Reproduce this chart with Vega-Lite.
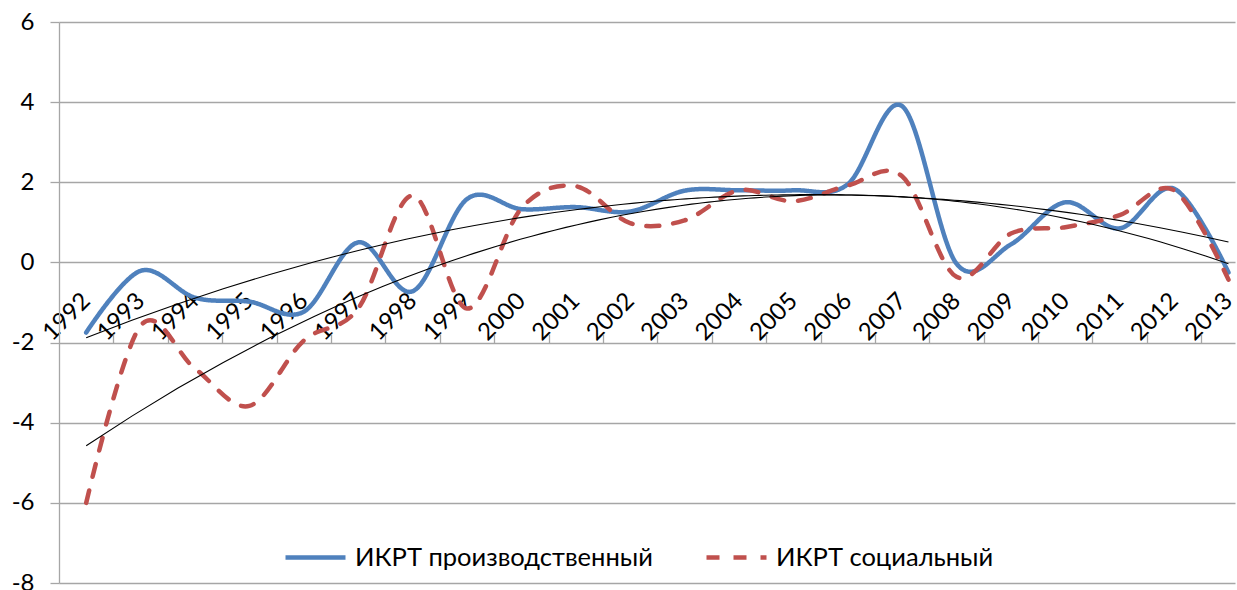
{
  "$schema": "https://vega.github.io/schema/vega-lite/v6.json",
  "width": 1176,
  "height": 561,
  "autosize": "none",
  "padding": {"left": 59, "top": 22, "right": 2, "bottom": 7},
  "background": "white",
  "config": {
    "view": {"stroke": null},
    "font": "Lato",
    "axis": {"labelFont": "Lato", "labelColor": "#000000", "titleFont": "Lato"},
    "legend": {"labelFont": "Lato"}
  },
  "data": {
    "values": [
      {"year": 1992, "series": "ИКРТ производственный", "value": -1.75},
      {"year": 1993, "series": "ИКРТ производственный", "value": -0.21},
      {"year": 1994, "series": "ИКРТ производственный", "value": -0.88},
      {"year": 1995, "series": "ИКРТ производственный", "value": -0.98},
      {"year": 1996, "series": "ИКРТ производственный", "value": -1.23},
      {"year": 1997, "series": "ИКРТ производственный", "value": 0.5},
      {"year": 1998, "series": "ИКРТ производственный", "value": -0.72},
      {"year": 1999, "series": "ИКРТ производственный", "value": 1.58},
      {"year": 2000, "series": "ИКРТ производственный", "value": 1.33},
      {"year": 2001, "series": "ИКРТ производственный", "value": 1.38},
      {"year": 2002, "series": "ИКРТ производственный", "value": 1.27},
      {"year": 2003, "series": "ИКРТ производственный", "value": 1.79},
      {"year": 2004, "series": "ИКРТ производственный", "value": 1.8},
      {"year": 2005, "series": "ИКРТ производственный", "value": 1.8},
      {"year": 2006, "series": "ИКРТ производственный", "value": 1.95},
      {"year": 2007, "series": "ИКРТ производственный", "value": 3.9},
      {"year": 2008, "series": "ИКРТ производственный", "value": -0.03},
      {"year": 2009, "series": "ИКРТ производственный", "value": 0.45},
      {"year": 2010, "series": "ИКРТ производственный", "value": 1.5},
      {"year": 2011, "series": "ИКРТ производственный", "value": 0.85},
      {"year": 2012, "series": "ИКРТ производственный", "value": 1.84},
      {"year": 2013, "series": "ИКРТ производственный", "value": -0.25},
      {"year": 1992, "series": "ИКРТ социальный", "value": -6.0},
      {"year": 1993, "series": "ИКРТ социальный", "value": -1.58},
      {"year": 1994, "series": "ИКРТ социальный", "value": -2.65},
      {"year": 1995, "series": "ИКРТ социальный", "value": -3.58},
      {"year": 1996, "series": "ИКРТ социальный", "value": -1.95},
      {"year": 1997, "series": "ИКРТ социальный", "value": -1.15},
      {"year": 1998, "series": "ИКРТ социальный", "value": 1.67},
      {"year": 1999, "series": "ИКРТ социальный", "value": -1.15},
      {"year": 2000, "series": "ИКРТ социальный", "value": 1.35},
      {"year": 2001, "series": "ИКРТ социальный", "value": 1.9},
      {"year": 2002, "series": "ИКРТ социальный", "value": 0.98},
      {"year": 2003, "series": "ИКРТ социальный", "value": 1.05},
      {"year": 2004, "series": "ИКРТ социальный", "value": 1.8},
      {"year": 2005, "series": "ИКРТ социальный", "value": 1.53},
      {"year": 2006, "series": "ИКРТ социальный", "value": 1.92},
      {"year": 2007, "series": "ИКРТ социальный", "value": 2.15},
      {"year": 2008, "series": "ИКРТ социальный", "value": -0.36},
      {"year": 2009, "series": "ИКРТ социальный", "value": 0.72},
      {"year": 2010, "series": "ИКРТ социальный", "value": 0.88},
      {"year": 2011, "series": "ИКРТ социальный", "value": 1.18},
      {"year": 2012, "series": "ИКРТ социальный", "value": 1.8},
      {"year": 2013, "series": "ИКРТ социальный", "value": -0.43}
    ]
  },
  "layer": [
    {
      "mark": {"type": "line", "interpolate": "cardinal", "tension": 0, "strokeWidth": 4.5, "strokeCap": "round", "strokeJoin": "round", "clip": false},
      "encoding": {
        "x": {
          "field": "year", "type": "quantitative",
          "scale": {"domain": [1991.5, 2013.12], "nice": false, "zero": false},
          "axis": {
            "title": null,
            "values": [1992,1993,1994,1995,1996,1997,1998,1999,2000,2001,2002,2003,2004,2005,2006,2007,2008,2009,2010,2011,2012,2013],
            "format": "d",
            "labelAngle": -45,
            "labelAlign": "right",
            "labelBaseline": "middle",
            "labelFontSize": 24,
            "labelPadding": 35,
            "labelFlush": false,
            "labelOverlap": false,
            "ticks": false,
            "tickSize": 0,
            "domain": false,
            "grid": false,
            "offset": -321
          }
        },
        "y": {
          "field": "value", "type": "quantitative",
          "scale": {"domain": [-8, 6], "nice": false, "zero": false},
          "axis": {
            "title": null,
            "values": [-8, -6, -4, -2, 0, 2, 4, 6],
            "labelExpr": "'' + datum.value",
            "labelFontSize": 24,
            "labelPadding": 16,
            "tickSize": 9,
            "tickColor": "#A6A6A6",
            "tickWidth": 1.3,
            "domainColor": "#A6A6A6",
            "domainWidth": 1.3,
            "grid": true,
            "gridColor": "#A6A6A6",
            "gridWidth": 1.3
          }
        },
        "color": {
          "field": "series", "type": "nominal",
          "scale": {"domain": ["ИКРТ производственный", "ИКРТ социальный"], "range": ["#4F81BD", "#C0504D"]},
          "legend": {
            "title": null,
            "orient": "none",
            "direction": "horizontal",
            "legendX": 224,
            "legendY": 503,
            "symbolType": "stroke",
            "symbolSize": 3600,
            "symbolStrokeWidth": 4.5,
            "labelFontSize": 25.5,
            "labelLimit": 500,
            "labelColor": "#000000",
            "labelOffset": 7,
            "columnPadding": 44,
            "padding": 0
          }
        },
        "strokeDash": {
          "field": "series", "type": "nominal",
          "scale": {"domain": ["ИКРТ производственный", "ИКРТ социальный"], "range": [[1, 0], [13, 14]]},
          "legend": {
            "title": null,
            "orient": "none",
            "direction": "horizontal",
            "legendX": 224,
            "legendY": 503,
            "symbolType": "stroke",
            "symbolSize": 3600,
            "symbolStrokeWidth": 4.5,
            "labelFontSize": 25.5,
            "labelLimit": 500,
            "labelColor": "#000000",
            "labelOffset": 7,
            "columnPadding": 44,
            "padding": 0
          }
        }
      }
    },
    {
      "transform": [
        {"regression": "value", "on": "year", "groupby": ["series"], "method": "poly", "order": 2}
      ],
      "mark": {"type": "line", "color": "#000000", "strokeWidth": 1.1},
      "encoding": {
        "x": {
          "field": "year", "type": "quantitative",
          "axis": {
            "title": null,
            "values": [1992.5,1993.5,1994.5,1995.5,1996.5,1997.5,1998.5,1999.5,2000.5,2001.5,2002.5,2003.5,2004.5,2005.5,2006.5,2007.5,2008.5,2009.5,2010.5,2011.5,2012.5],
            "labels": false,
            "ticks": true,
            "tickSize": 9,
            "tickColor": "#A6A6A6",
            "tickWidth": 1.3,
            "domain": false,
            "grid": false,
            "offset": -321
          }
        },
        "y": {"field": "value", "type": "quantitative"},
        "detail": {"field": "series", "type": "nominal"}
      }
    }
  ],
  "resolve": {"axis": {"x": "independent"}}
}
